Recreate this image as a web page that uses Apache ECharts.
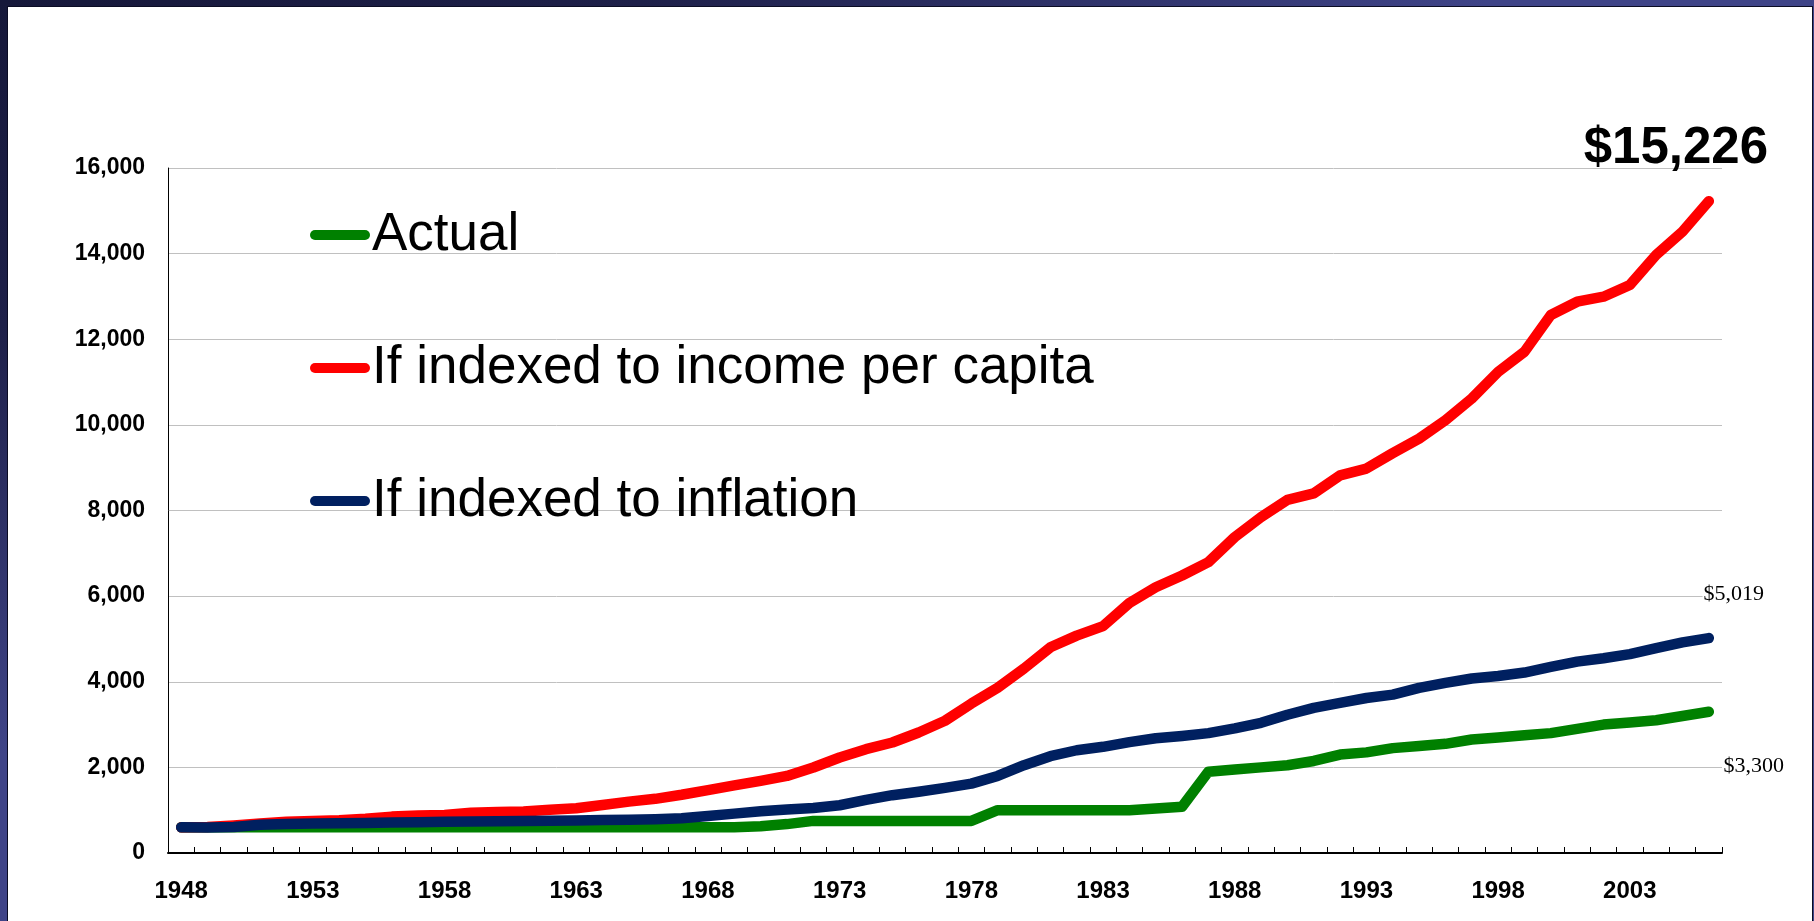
<!DOCTYPE html>
<html>
<head>
<meta charset="utf-8">
<title>Personal exemption, 1948–2006</title>
<script src="https://cdn.jsdelivr.net/npm/echarts@6/dist/echarts.min.js"></script>
<style>
  html, body { margin: 0; padding: 0; width: 1814px; height: 921px; overflow: hidden; }
  body {
    background: radial-gradient(ellipse at top left, #16183a 0%, #1e2049 25%, #3f4488 58%, #3f4488 100%);
    position: relative;
  }
  /* slide panel */
  #panel {
    position: absolute; left: 7px; top: 6px; width: 1804px; height: 930px;
    background: #ffffff; border: 1px solid #0b0c24; border-bottom: none;
  }
  #chart { position: absolute; left: 0; top: 0; width: 1814px; height: 921px; }
</style>
</head>
<body>
<div id="panel"></div>
<div id="chart"></div>
<script>
// Years on the category axis
const years = [];
for (let y = 1948; y <= 2006; y++) years.push(String(y));

// Actual exemption amount, dollars
const actual = [
  600, 600, 600, 600, 600, 600, 600, 600, 600, 600,
  600, 600, 600, 600, 600, 600, 600, 600, 600, 600,
  600, 600, 625, 675, 750, 750, 750, 750, 750, 750,
  750, 1000, 1000, 1000, 1000, 1000, 1000, 1040, 1080, 1900,
  1950, 2000, 2050, 2150, 2300, 2350, 2450, 2500, 2550, 2650,
  2700, 2750, 2800, 2900, 3000, 3050, 3100, 3200, 3300
];

// The 1948 amount grown with income per capita
const byIncome = [
  600, 605, 645, 690, 730, 750, 765, 800, 850, 875,
  890, 940, 955, 970, 1010, 1045, 1120, 1200, 1265, 1360,
  1470, 1580, 1685, 1800, 1997, 2230, 2426, 2581, 2815, 3089,
  3490, 3860, 4310, 4805, 5078, 5300, 5840, 6208, 6482, 6793,
  7378, 7846, 8250, 8400, 8822, 8979, 9340, 9680, 10109, 10616,
  11239, 11707, 12566, 12877, 12994, 13268, 13970, 14515, 15226
];

// The 1948 amount grown with consumer prices
const byInflation = [
  600, 595, 605, 660, 675, 690, 697, 702, 710, 720,
  728, 735, 740, 745, 752, 760, 768, 775, 790, 810,
  866, 920, 975, 1015, 1050, 1115, 1240, 1350, 1430, 1520,
  1620, 1800, 2050, 2260, 2400, 2480, 2590, 2680, 2735, 2800,
  2910, 3040, 3230, 3390, 3505, 3620, 3700, 3855, 3975, 4075,
  4135, 4215, 4345, 4470, 4550, 4645, 4785, 4920, 5019
];

const seriesNames = ['Actual', 'If indexed to income per capita', 'If indexed to inflation'];
const seriesColors = ['#008000', '#ff0000', '#002060'];

const sans = '"Liberation Sans", Arial, sans-serif';
const serif = '"Liberation Serif", "Times New Roman", serif';
const money = v => '$' + v.toLocaleString('en-US');
const last = arr => arr[arr.length - 1];

function lineSeries(idx, data, endLabel) {
  return {
    name: seriesNames[idx],
    type: 'line',
    data: data,
    showSymbol: false,
    symbol: 'none',
    smooth: false,
    color: seriesColors[idx],
    lineStyle: { color: seriesColors[idx], width: 10.5, cap: 'round', join: 'round' },
    endLabel: endLabel,
    z: 2 + idx
  };
}

const chart = echarts.init(document.getElementById('chart'), null, { renderer: 'canvas' });

chart.setOption({
  animation: false,
  backgroundColor: 'transparent',
  grid: { left: 168, top: 168, right: 92, bottom: 68, containLabel: false },
  legend: {
    orient: 'vertical',
    left: 310,
    top: 205,
    padding: 0,
    itemGap: 73,
    itemWidth: 60,
    itemHeight: 10,
    icon: 'path://M5,0 H55 A5,5 0 0 1 55,10 H5 A5,5 0 0 1 5,0 Z',
    selectedMode: false,
    data: seriesNames,
    textStyle: {
      fontFamily: sans, fontSize: 53, color: '#000', lineHeight: 60,
      padding: [0, 0, 0, -3]
    }
  },
  xAxis: {
    type: 'category',
    data: years,
    boundaryGap: true,
    axisLine: { show: true, lineStyle: { color: '#000', width: 2 } },
    axisTick: { show: true, inside: true, length: 6, interval: 0, lineStyle: { color: '#000', width: 1 } },
    axisLabel: {
      interval: 4, margin: 26, color: '#000',
      fontFamily: sans, fontWeight: 'bold', fontSize: 24
    },
    splitLine: { show: false }
  },
  yAxis: {
    type: 'value',
    min: 0, max: 16000, interval: 2000,
    axisLine: { show: true, lineStyle: { color: '#000', width: 1 } },
    axisTick: { show: false },
    axisLabel: {
      margin: 23, color: '#000', fontFamily: sans, fontWeight: 'bold', fontSize: 23,
      formatter: v => v.toLocaleString('en-US')
    },
    splitLine: { show: true, lineStyle: { color: '#c0c0c0', width: 1 } }
  },
  series: [
    lineSeries(0, actual, {
      show: true, formatter: () => money(last(actual)),
      align: 'center', verticalAlign: 'middle', distance: 0, offset: [45, 54],
      fontFamily: serif, fontSize: 22, color: '#000',
      backgroundColor: '#fff', padding: [1, 1]
    }),
    lineSeries(1, byIncome, {
      show: true, formatter: () => money(last(byIncome)),
      align: 'center', verticalAlign: 'middle', distance: 0, offset: [-33, -52],
      fontFamily: sans, fontWeight: 'bold', fontSize: 51, color: '#000'
    }),
    lineSeries(2, byInflation, {
      show: true, formatter: () => money(last(byInflation)),
      align: 'center', verticalAlign: 'middle', distance: 0, offset: [25, -44],
      fontFamily: serif, fontSize: 22, color: '#000',
      backgroundColor: '#fff', padding: [1, 1]
    })
  ]
});
</script>
</body>
</html>
